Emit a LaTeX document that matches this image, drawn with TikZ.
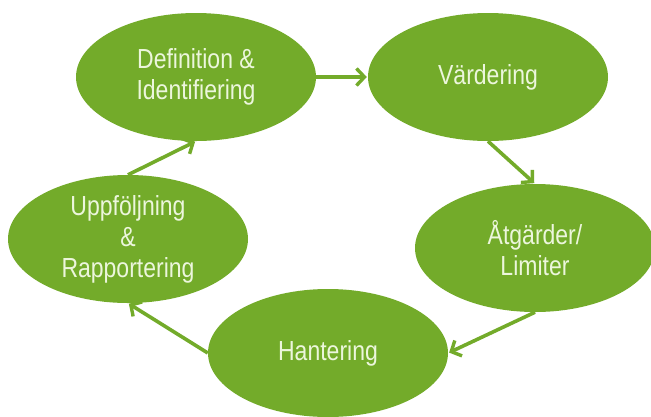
\documentclass[tikz,border=0pt]{standalone}
\usepackage{fontspec}
\setmainfont{Liberation Sans}
\usetikzlibrary{shapes.geometric,arrows.meta}
\definecolor{leaf}{RGB}{115,171,42}
\definecolor{paletxt}{RGB}{236,246,220}
\tikzset{
  blob/.style={ellipse, fill=leaf, draw=none, minimum width=240pt, minimum height=128pt, inner sep=0pt,
    text=paletxt, align=center, font=\fontsize{23}{31}\selectfont},
  flow/.style={draw=leaf, line width=3.6pt, -{Straight Barb[length=8pt,width=17pt,line width=3.4pt]}, shorten >=1pt}
}
\begin{document}
\begin{tikzpicture}[x=1pt,y=-1pt]
\useasboundingbox (0,0) rectangle (651,416);
\node[blob] (e1) at (196,77) {\scalebox{1}[1.2]{Definition \&}\\\scalebox{1}[1.2]{Identifiering}};
\node[blob] (e2) at (488,77) {\scalebox{1}[1.2]{Värdering}};
\node[blob] (e3) at (535,248) {\scalebox{1}[1.2]{Åtgärder/}\\\scalebox{1}[1.2]{Limiter}};
\node[blob] (e4) at (328,353) {\scalebox{1}[1.2]{Hantering}};
\node[blob] (e5) at (128,239) {\scalebox{1}[1.2]{Uppföljning}\\\scalebox{1}[1.2]{\&}\\\scalebox{1}[1.2]{Rapportering}};
\draw[flow] (e1) -- (e2);
\draw[flow] (e2.south) -- (e3.north);
\draw[flow] (e3.south) -- (e4.east);
\draw[flow] (e4.west) -- (e5.south);
\draw[flow] (e5.north) -- (e1.south);
\end{tikzpicture}
\end{document}
